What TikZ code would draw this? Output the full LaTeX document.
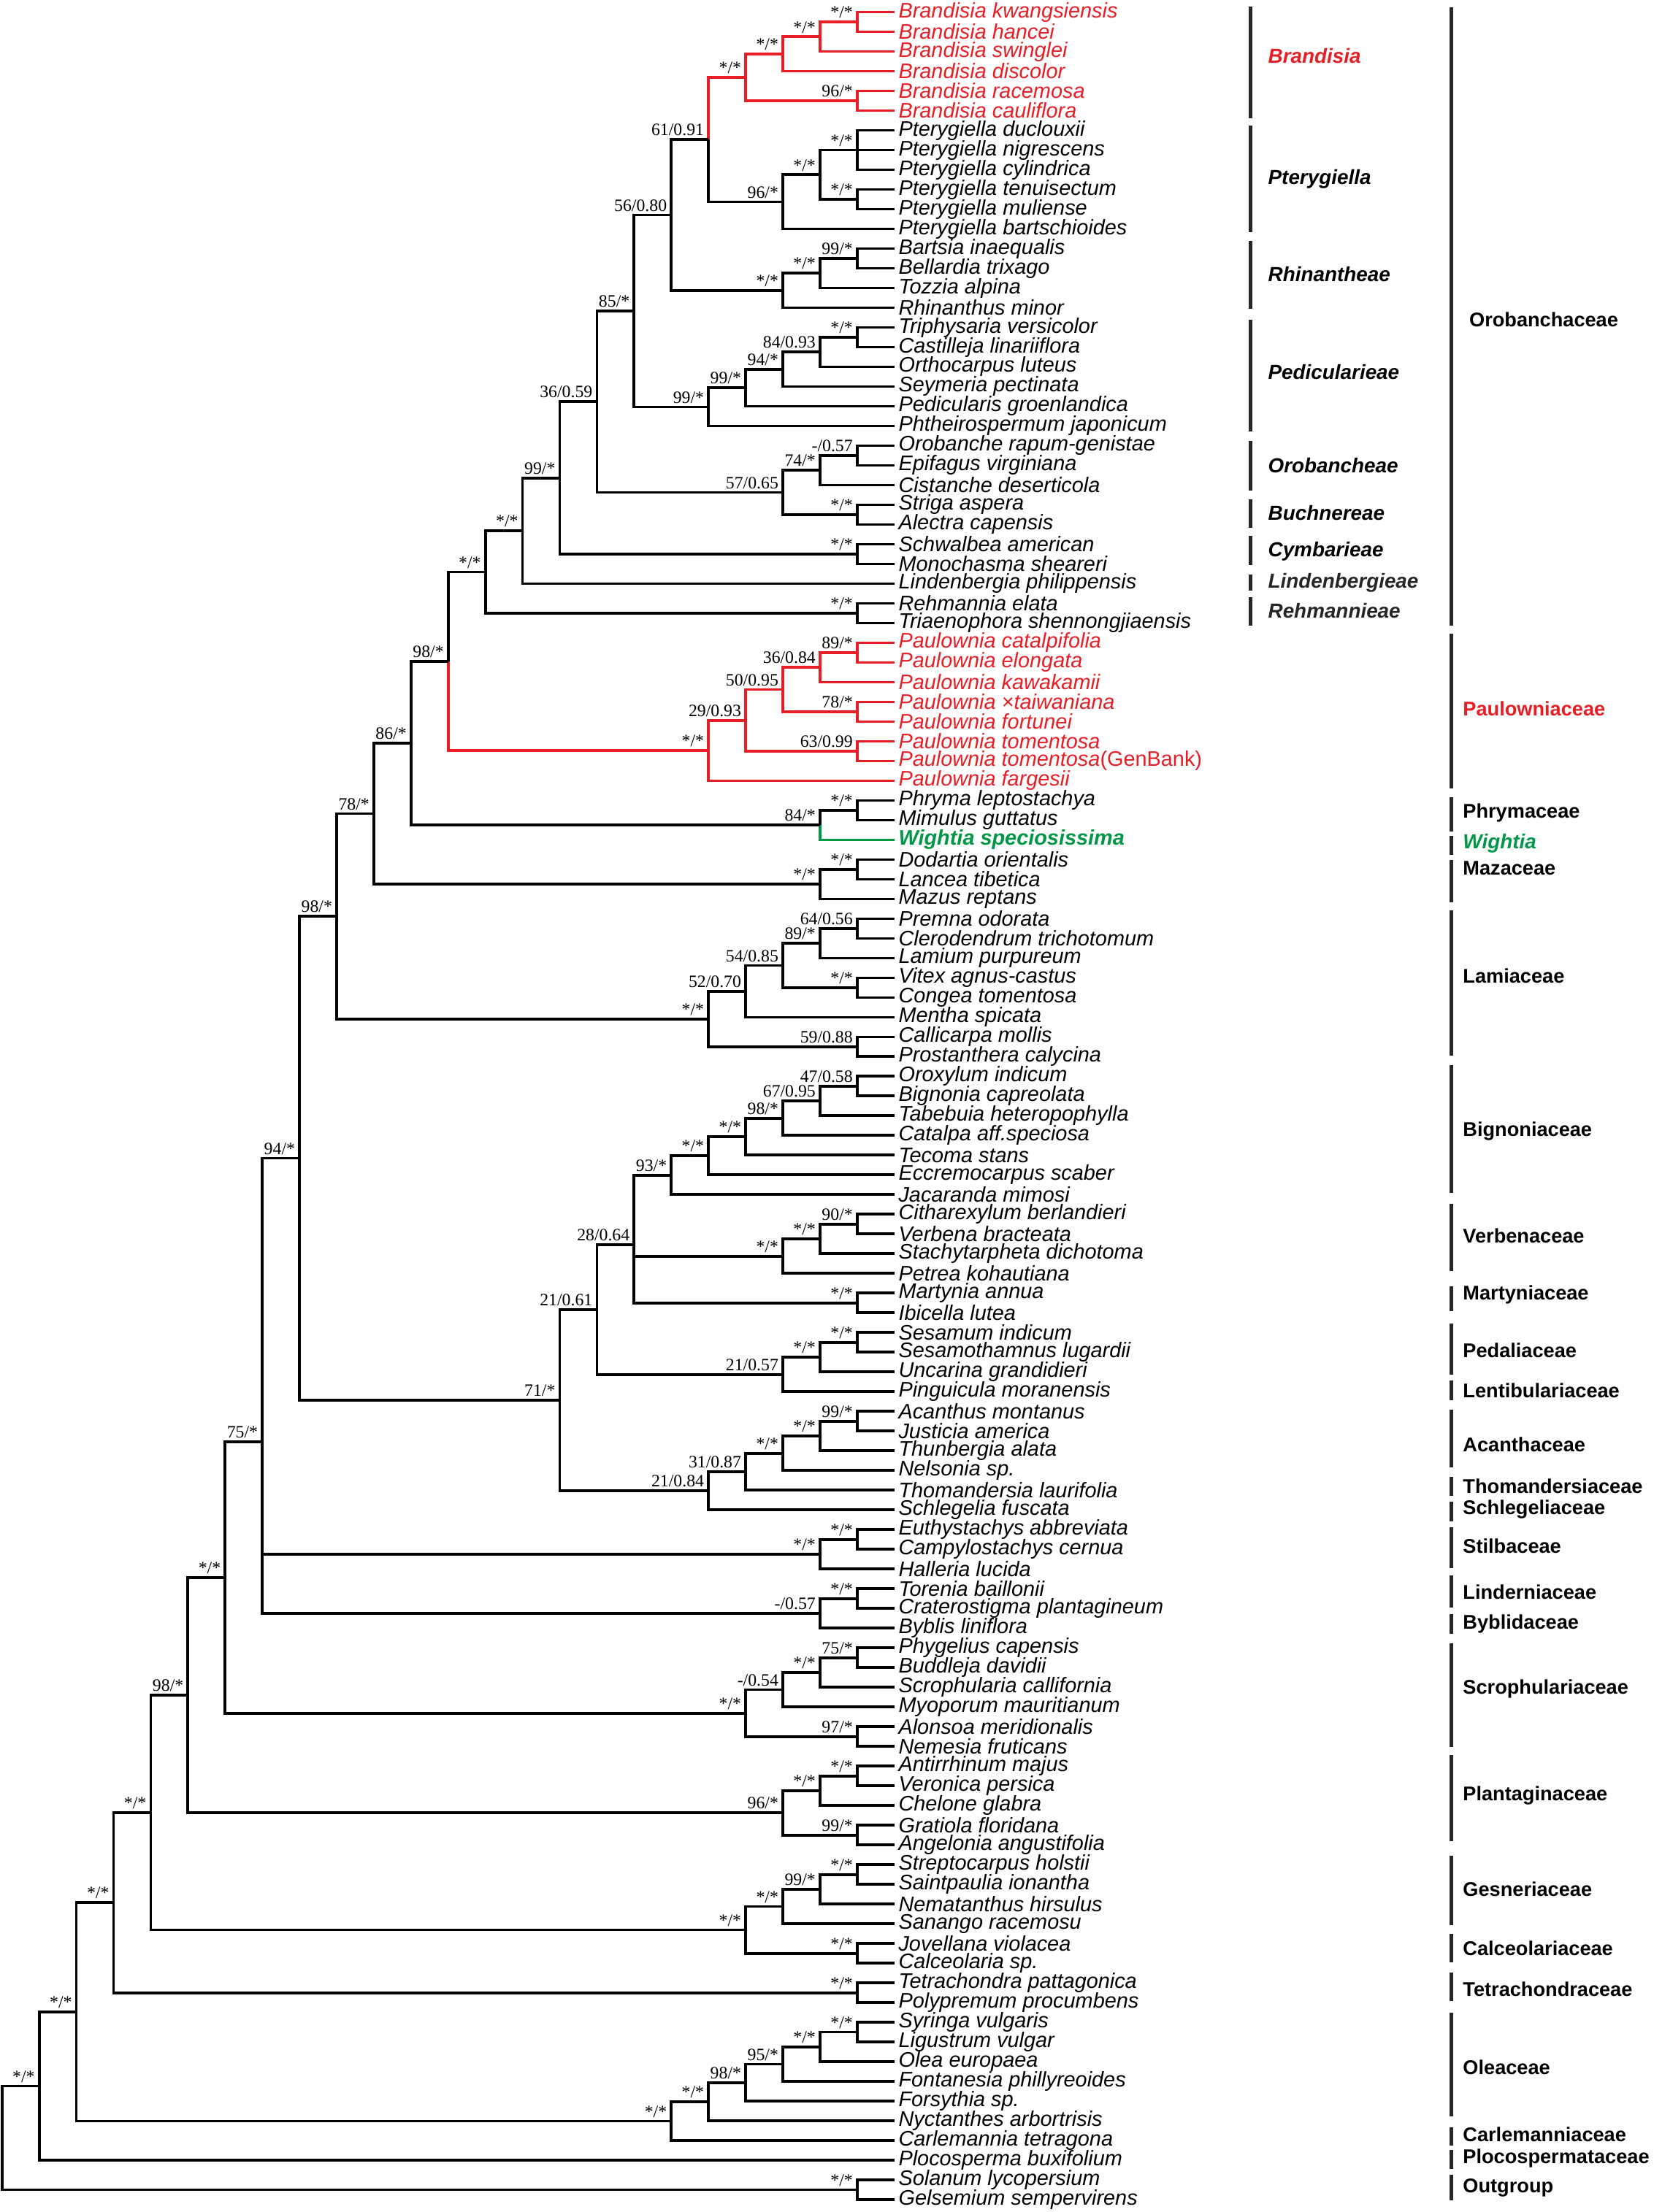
\documentclass[tikz,border=0pt]{standalone}
\usepackage{fontspec}
\setmainfont{Liberation Sans}
\newfontfamily\numfont{Liberation Serif}
\definecolor{bred}{RGB}{232,30,37}
\definecolor{wgreen}{RGB}{0,152,70}
\newcommand\tipfont{\fontsize{8.5}{9}\selectfont\itshape}
\newcommand\supfont{\numfont\fontsize{7}{7}\selectfont}
\newcommand\famfont{\fontsize{8}{9}\selectfont\bfseries}
\newcommand\tribefont{\fontsize{8.2}{9}\selectfont\bfseries\itshape}

\begin{document}
\begin{tikzpicture}[x=-0.527cm,y=-0.2794cm]
            % x = tree level (0 = tips), y = tip number
            \tikzstyle{branch}=[line width=1.1pt]
            \tikzstyle{tip}=[anchor=west,inner xsep=1.5pt,inner ysep=0pt,font=\tipfont]
            \tikzstyle{sup}=[anchor=south east,inner sep=0pt,xshift=-1.6pt,yshift=1.3pt,font=\supfont]
            \tikzstyle{cladebar}=[line width=1.4pt,black!85]
            \tikzstyle{tribe}=[anchor=west,inner sep=0pt,font=\tribefont]
            \tikzstyle{family}=[anchor=west,inner sep=0pt,font=\famfont]
            \useasboundingbox (24.055,0.3844) rectangle (-20.42,112.628);

            % tips
            \node[tip,text=bred] (t1) at (0,1) {Brandisia kwangsiensis};
            \node[tip,text=bred] (t2) at (0,2) {Brandisia hancei};
            \node[tip,text=bred] (t3) at (0,3) {Brandisia swinglei};
            \node[tip,text=bred] (t4) at (0,4) {Brandisia discolor};
            \node[tip,text=bred] (t5) at (0,5) {Brandisia racemosa};
            \node[tip,text=bred] (t6) at (0,6) {Brandisia cauliflora};
            \node[tip] (t7) at (0,7) {Pterygiella duclouxii};
            \node[tip] (t8) at (0,8) {Pterygiella nigrescens};
            \node[tip] (t9) at (0,9) {Pterygiella cylindrica};
            \node[tip] (t10) at (0,10) {Pterygiella tenuisectum};
            \node[tip] (t11) at (0,11) {Pterygiella muliense};
            \node[tip] (t12) at (0,12) {Pterygiella bartschioides};
            \node[tip] (t13) at (0,13) {Bartsia inaequalis};
            \node[tip] (t14) at (0,14) {Bellardia trixago};
            \node[tip] (t15) at (0,15) {Tozzia alpina};
            \node[tip] (t16) at (0,16) {Rhinanthus minor};
            \node[tip] (t17) at (0,17) {Triphysaria versicolor};
            \node[tip] (t18) at (0,18) {Castilleja linariiflora};
            \node[tip] (t19) at (0,19) {Orthocarpus luteus};
            \node[tip] (t20) at (0,20) {Seymeria pectinata};
            \node[tip] (t21) at (0,21) {Pedicularis groenlandica};
            \node[tip] (t22) at (0,22) {Phtheirospermum japonicum};
            \node[tip] (t23) at (0,23) {Orobanche rapum-genistae};
            \node[tip] (t24) at (0,24) {Epifagus virginiana};
            \node[tip] (t25) at (0,25) {Cistanche deserticola};
            \node[tip] (t26) at (0,26) {Striga aspera};
            \node[tip] (t27) at (0,27) {Alectra capensis};
            \node[tip] (t28) at (0,28) {Schwalbea american};
            \node[tip] (t29) at (0,29) {Monochasma sheareri};
            \node[tip] (t30) at (0,30) {Lindenbergia philippensis};
            \node[tip] (t31) at (0,31) {Rehmannia elata};
            \node[tip] (t32) at (0,32) {Triaenophora shennongjiaensis};
            \node[tip,text=bred] (t33) at (0,33) {Paulownia catalpifolia};
            \node[tip,text=bred] (t34) at (0,34) {Paulownia elongata};
            \node[tip,text=bred] (t35) at (0,35) {Paulownia kawakamii};
            \node[tip,text=bred] (t36) at (0,36) {Paulownia ×taiwaniana};
            \node[tip,text=bred] (t37) at (0,37) {Paulownia fortunei};
            \node[tip,text=bred] (t38) at (0,38) {Paulownia tomentosa};
            \node[tip,text=bred] (t39) at (0,39) {Paulownia tomentosa\upshape(GenBank)};
            \node[tip,text=bred] (t40) at (0,40) {Paulownia fargesii};
            \node[tip] (t41) at (0,41) {Phryma leptostachya};
            \node[tip] (t42) at (0,42) {Mimulus guttatus};
            \node[tip,text=wgreen,font=\tipfont\bfseries] (t43) at (0,43) {Wightia speciosissima};
            \node[tip] (t44) at (0,44) {Dodartia orientalis};
            \node[tip] (t45) at (0,45) {Lancea tibetica};
            \node[tip] (t46) at (0,46) {Mazus reptans};
            \node[tip] (t47) at (0,47) {Premna odorata};
            \node[tip] (t48) at (0,48) {Clerodendrum trichotomum};
            \node[tip] (t49) at (0,49) {Lamium purpureum};
            \node[tip] (t50) at (0,50) {Vitex agnus-castus};
            \node[tip] (t51) at (0,51) {Congea tomentosa};
            \node[tip] (t52) at (0,52) {Mentha spicata};
            \node[tip] (t53) at (0,53) {Callicarpa mollis};
            \node[tip] (t54) at (0,54) {Prostanthera calycina};
            \node[tip] (t55) at (0,55) {Oroxylum indicum};
            \node[tip] (t56) at (0,56) {Bignonia capreolata};
            \node[tip] (t57) at (0,57) {Tabebuia heteropophylla};
            \node[tip] (t58) at (0,58) {Catalpa aff.speciosa};
            \node[tip] (t59) at (0,59) {Tecoma stans};
            \node[tip] (t60) at (0,60) {Eccremocarpus scaber};
            \node[tip] (t61) at (0,61) {Jacaranda mimosi};
            \node[tip] (t62) at (0,62) {Citharexylum berlandieri};
            \node[tip] (t63) at (0,63) {Verbena bracteata};
            \node[tip] (t64) at (0,64) {Stachytarpheta dichotoma};
            \node[tip] (t65) at (0,65) {Petrea kohautiana};
            \node[tip] (t66) at (0,66) {Martynia annua};
            \node[tip] (t67) at (0,67) {Ibicella lutea};
            \node[tip] (t68) at (0,68) {Sesamum indicum};
            \node[tip] (t69) at (0,69) {Sesamothamnus lugardii};
            \node[tip] (t70) at (0,70) {Uncarina grandidieri};
            \node[tip] (t71) at (0,71) {Pinguicula moranensis};
            \node[tip] (t72) at (0,72) {Acanthus montanus};
            \node[tip] (t73) at (0,73) {Justicia america};
            \node[tip] (t74) at (0,74) {Thunbergia alata};
            \node[tip] (t75) at (0,75) {Nelsonia sp.};
            \node[tip] (t76) at (0,76) {Thomandersia laurifolia};
            \node[tip] (t77) at (0,77) {Schlegelia fuscata};
            \node[tip] (t78) at (0,78) {Euthystachys abbreviata};
            \node[tip] (t79) at (0,79) {Campylostachys cernua};
            \node[tip] (t80) at (0,80) {Halleria lucida};
            \node[tip] (t81) at (0,81) {Torenia baillonii};
            \node[tip] (t82) at (0,82) {Craterostigma plantagineum};
            \node[tip] (t83) at (0,83) {Byblis liniflora};
            \node[tip] (t84) at (0,84) {Phygelius capensis};
            \node[tip] (t85) at (0,85) {Buddleja davidii};
            \node[tip] (t86) at (0,86) {Scrophularia callifornia};
            \node[tip] (t87) at (0,87) {Myoporum mauritianum};
            \node[tip] (t88) at (0,88) {Alonsoa meridionalis};
            \node[tip] (t89) at (0,89) {Nemesia fruticans};
            \node[tip] (t90) at (0,90) {Antirrhinum majus};
            \node[tip] (t91) at (0,91) {Veronica persica};
            \node[tip] (t92) at (0,92) {Chelone glabra};
            \node[tip] (t93) at (0,93) {Gratiola floridana};
            \node[tip] (t94) at (0,94) {Angelonia angustifolia};
            \node[tip] (t95) at (0,95) {Streptocarpus holstii};
            \node[tip] (t96) at (0,96) {Saintpaulia ionantha};
            \node[tip] (t97) at (0,97) {Nematanthus hirsulus};
            \node[tip] (t98) at (0,98) {Sanango racemosu};
            \node[tip] (t99) at (0,99) {Jovellana violacea};
            \node[tip] (t100) at (0,100) {Calceolaria sp.};
            \node[tip] (t101) at (0,101) {Tetrachondra pattagonica};
            \node[tip] (t102) at (0,102) {Polypremum procumbens};
            \node[tip] (t103) at (0,103) {Syringa vulgaris};
            \node[tip] (t104) at (0,104) {Ligustrum vulgar};
            \node[tip] (t105) at (0,105) {Olea europaea};
            \node[tip] (t106) at (0,106) {Fontanesia phillyreoides};
            \node[tip] (t107) at (0,107) {Forsythia sp.};
            \node[tip] (t108) at (0,108) {Nyctanthes arbortrisis};
            \node[tip] (t109) at (0,109) {Carlemannia tetragona};
            \node[tip] (t110) at (0,110) {Plocosperma buxifolium};
            \node[tip] (t111) at (0,111) {Solanum lycopersium};
            \node[tip] (t112) at (0,112) {Gelsemium sempervirens};

            % Orobanchaceae
            \coordinate (b1) at (1,1.5);
            \coordinate (b2) at (2,2.25);
            \coordinate (b3) at (3,3.125);
            \coordinate (b4) at (1,5.5);
            \coordinate (b5) at (4,4.3125);
            \coordinate (p1) at (1,8);
            \coordinate (p2) at (1,10.5);
            \coordinate (p3) at (2,9.25);
            \coordinate (p4) at (3,10.625);
            \coordinate (o1) at (5,7.46875);
            \coordinate (r1) at (1,13.5);
            \coordinate (r2) at (2,14.25);
            \coordinate (r3) at (3,15.125);
            \coordinate (o2) at (6,11.296875);
            \coordinate (d1) at (1,17.5);
            \coordinate (d2) at (2,18.25);
            \coordinate (d3) at (3,19.125);
            \coordinate (d4) at (4,20.0625);
            \coordinate (d5) at (5,21.03125);
            \coordinate (o3) at (7,16.16406);
            \coordinate (ob1) at (1,23.5);
            \coordinate (ob2) at (2,24.25);
            \coordinate (bu1) at (1,26.5);
            \coordinate (ob3) at (3,25.375);
            \coordinate (o4) at (8,20.76953);
            \coordinate (cy1) at (1,28.5);
            \coordinate (o5) at (9,24.63477);
            \coordinate (o6) at (10,27.31738);
            \coordinate (re1) at (1,31.5);
            \coordinate (o7) at (11,29.40869);
            % Paulownia and the Lamiales core
            \coordinate (pa1) at (1,33.5);
            \coordinate (pa2) at (2,34.25);
            \coordinate (pa3) at (1,36.5);
            \coordinate (pa4) at (3,35.375);
            \coordinate (pa5) at (1,38.5);
            \coordinate (pa6) at (4,36.9375);
            \coordinate (pa7) at (5,38.46875);
            \coordinate (o8) at (12,33.93872);
            \coordinate (ph1) at (1,41.5);
            \coordinate (ph2) at (2,42.25);
            \coordinate (o9) at (13,38.09436);
            \coordinate (mz1) at (1,44.5);
            \coordinate (mz2) at (2,45.25);
            \coordinate (o10) at (14,41.67218);
            \coordinate (la1) at (1,47.5);
            \coordinate (la2) at (2,48.25);
            \coordinate (la3) at (1,50.5);
            \coordinate (la4) at (3,49.375);
            \coordinate (la5) at (4,50.6875);
            \coordinate (la6) at (1,53.5);
            \coordinate (la7) at (5,52.09375);
            \coordinate (o11) at (15,46.88297);
            \coordinate (bg1) at (1,55.5);
            \coordinate (bg2) at (2,56.25);
            \coordinate (bg3) at (3,57.125);
            \coordinate (bg4) at (4,58.0625);
            \coordinate (bg5) at (5,59.03125);
            \coordinate (bg6) at (6,60.015625);
            \coordinate (vb1) at (1,62.5);
            \coordinate (vb2) at (2,63.25);
            \coordinate (vb3) at (3,64.125);
            \coordinate (my1) at (1,66.5);
            \coordinate (l7) at (7,63.546875);
            \coordinate (pd1) at (1,68.5);
            \coordinate (pd2) at (2,69.25);
            \coordinate (pd3) at (3,70.125);
            \coordinate (l8) at (8,66.83594);
            \coordinate (ac1) at (1,72.5);
            \coordinate (ac2) at (2,73.25);
            \coordinate (ac3) at (3,74.125);
            \coordinate (ac4) at (4,75.0625);
            \coordinate (ac5) at (5,76.03125);
            \coordinate (l9) at (9,71.43359);
            \coordinate (o12) at (16,59.15828);
            \coordinate (st1) at (1,78.5);
            \coordinate (st2) at (2,79.25);
            \coordinate (ld1) at (1,81.5);
            \coordinate (ld2) at (2,82.25);
            \coordinate (o13) at (17,73.55276);
            % lower grade
            \coordinate (sc1) at (1,84.5);
            \coordinate (sc2) at (2,85.25);
            \coordinate (sc3) at (3,86.125);
            \coordinate (sc4) at (1,88.5);
            \coordinate (sc5) at (4,87.3125);
            \coordinate (o14) at (18,80.43263);
            \coordinate (pl1) at (1,90.5);
            \coordinate (pl2) at (2,91.25);
            \coordinate (pl3) at (1,93.5);
            \coordinate (pl4) at (3,92.375);
            \coordinate (o15) at (19,86.40382);
            \coordinate (gs1) at (1,95.5);
            \coordinate (gs2) at (2,96.25);
            \coordinate (gs3) at (3,97.125);
            \coordinate (ca1) at (1,99.5);
            \coordinate (gs4) at (4,98.3125);
            \coordinate (o16) at (20,92.35816);
            \coordinate (te1) at (1,101.5);
            \coordinate (o17) at (21,96.92908);
            \coordinate (ol1) at (1,103.5);
            \coordinate (ol2) at (2,104.25);
            \coordinate (ol3) at (3,105.125);
            \coordinate (ol4) at (4,106.0625);
            \coordinate (ol5) at (5,107.03125);
            \coordinate (ol6) at (6,108.015625);
            \coordinate (o18) at (22,102.47235);
            \coordinate (o19) at (23,106.23618);
            \coordinate (og1) at (1,111.5);
            \coordinate (root) at (24,108.86809);

            % branches
            \draw[branch,bred] (b1) |- (t1.west) (b1) |- (t2.west);
            \draw[branch,bred] (b2) |- (b1) (b2) |- (t3.west);
            \draw[branch,bred] (b3) |- (b2) (b3) |- (t4.west);
            \draw[branch,bred] (b4) |- (t5.west) (b4) |- (t6.west);
            \draw[branch,bred] (b5) |- (b3) (b5) |- (b4);
            \draw[branch,bred] (o1) |- (b5);
            \draw[branch] (p1) |- (t7.west) (p1) |- (t8.west) (p1) |- (t9.west);
            \draw[branch] (p2) |- (t10.west) (p2) |- (t11.west);
            \draw[branch] (p3) |- (p1) (p3) |- (p2);
            \draw[branch] (p4) |- (p3) (p4) |- (t12.west);
            \draw[branch] (o1) |- (p4);
            \draw[branch] (r1) |- (t13.west) (r1) |- (t14.west);
            \draw[branch] (r2) |- (r1) (r2) |- (t15.west);
            \draw[branch] (r3) |- (r2) (r3) |- (t16.west);
            \draw[branch] (o2) |- (o1) (o2) |- (r3);
            \draw[branch] (d1) |- (t17.west) (d1) |- (t18.west);
            \draw[branch] (d2) |- (d1) (d2) |- (t19.west);
            \draw[branch] (d3) |- (d2) (d3) |- (t20.west);
            \draw[branch] (d4) |- (d3) (d4) |- (t21.west);
            \draw[branch] (d5) |- (d4) (d5) |- (t22.west);
            \draw[branch] (o3) |- (o2) (o3) |- (d5);
            \draw[branch] (ob1) |- (t23.west) (ob1) |- (t24.west);
            \draw[branch] (ob2) |- (ob1) (ob2) |- (t25.west);
            \draw[branch] (bu1) |- (t26.west) (bu1) |- (t27.west);
            \draw[branch] (ob3) |- (ob2) (ob3) |- (bu1);
            \draw[branch] (o4) |- (o3) (o4) |- (ob3);
            \draw[branch] (cy1) |- (t28.west) (cy1) |- (t29.west);
            \draw[branch] (o5) |- (o4) (o5) |- (cy1);
            \draw[branch] (o6) |- (o5) (o6) |- (t30.west);
            \draw[branch] (re1) |- (t31.west) (re1) |- (t32.west);
            \draw[branch] (o7) |- (o6) (o7) |- (re1);
            \draw[branch,bred] (pa1) |- (t33.west) (pa1) |- (t34.west);
            \draw[branch,bred] (pa2) |- (pa1) (pa2) |- (t35.west);
            \draw[branch,bred] (pa3) |- (t36.west) (pa3) |- (t37.west);
            \draw[branch,bred] (pa4) |- (pa2) (pa4) |- (pa3);
            \draw[branch,bred] (pa5) |- (t38.west) (pa5) |- (t39.west);
            \draw[branch,bred] (pa6) |- (pa4) (pa6) |- (pa5);
            \draw[branch,bred] (pa7) |- (pa6) (pa7) |- (t40.west);
            \draw[branch,bred] (o8) |- (pa7);
            \draw[branch] (o8) |- (o7);
            \draw[branch] (ph1) |- (t41.west) (ph1) |- (t42.west);
            \draw[branch] (ph2) |- (ph1);
            \draw[branch,wgreen] (ph2) |- (t43.west);
            \draw[branch] (o9) |- (o8) (o9) |- (ph2);
            \draw[branch] (mz1) |- (t44.west) (mz1) |- (t45.west);
            \draw[branch] (mz2) |- (mz1) (mz2) |- (t46.west);
            \draw[branch] (o10) |- (o9) (o10) |- (mz2);
            \draw[branch] (la1) |- (t47.west) (la1) |- (t48.west);
            \draw[branch] (la2) |- (la1) (la2) |- (t49.west);
            \draw[branch] (la3) |- (t50.west) (la3) |- (t51.west);
            \draw[branch] (la4) |- (la2) (la4) |- (la3);
            \draw[branch] (la5) |- (la4) (la5) |- (t52.west);
            \draw[branch] (la6) |- (t53.west) (la6) |- (t54.west);
            \draw[branch] (la7) |- (la5) (la7) |- (la6);
            \draw[branch] (o11) |- (o10) (o11) |- (la7);
            \draw[branch] (bg1) |- (t55.west) (bg1) |- (t56.west);
            \draw[branch] (bg2) |- (bg1) (bg2) |- (t57.west);
            \draw[branch] (bg3) |- (bg2) (bg3) |- (t58.west);
            \draw[branch] (bg4) |- (bg3) (bg4) |- (t59.west);
            \draw[branch] (bg5) |- (bg4) (bg5) |- (t60.west);
            \draw[branch] (bg6) |- (bg5) (bg6) |- (t61.west);
            \draw[branch] (vb1) |- (t62.west) (vb1) |- (t63.west);
            \draw[branch] (vb2) |- (vb1) (vb2) |- (t64.west);
            \draw[branch] (vb3) |- (vb2) (vb3) |- (t65.west);
            \draw[branch] (my1) |- (t66.west) (my1) |- (t67.west);
            \draw[branch] (l7) |- (bg6) (l7) |- (vb3) (l7) |- (my1);
            \draw[branch] (pd1) |- (t68.west) (pd1) |- (t69.west);
            \draw[branch] (pd2) |- (pd1) (pd2) |- (t70.west);
            \draw[branch] (pd3) |- (pd2) (pd3) |- (t71.west);
            \draw[branch] (l8) |- (l7) (l8) |- (pd3);
            \draw[branch] (ac1) |- (t72.west) (ac1) |- (t73.west);
            \draw[branch] (ac2) |- (ac1) (ac2) |- (t74.west);
            \draw[branch] (ac3) |- (ac2) (ac3) |- (t75.west);
            \draw[branch] (ac4) |- (ac3) (ac4) |- (t76.west);
            \draw[branch] (ac5) |- (ac4) (ac5) |- (t77.west);
            \draw[branch] (l9) |- (l8) (l9) |- (ac5);
            \draw[branch] (o12) |- (o11) (o12) |- (l9);
            \draw[branch] (st1) |- (t78.west) (st1) |- (t79.west);
            \draw[branch] (st2) |- (st1) (st2) |- (t80.west);
            \draw[branch] (ld1) |- (t81.west) (ld1) |- (t82.west);
            \draw[branch] (ld2) |- (ld1) (ld2) |- (t83.west);
            \draw[branch] (o13) |- (o12) (o13) |- (st2) (o13) |- (ld2);
            \draw[branch] (sc1) |- (t84.west) (sc1) |- (t85.west);
            \draw[branch] (sc2) |- (sc1) (sc2) |- (t86.west);
            \draw[branch] (sc3) |- (sc2) (sc3) |- (t87.west);
            \draw[branch] (sc4) |- (t88.west) (sc4) |- (t89.west);
            \draw[branch] (sc5) |- (sc3) (sc5) |- (sc4);
            \draw[branch] (o14) |- (o13) (o14) |- (sc5);
            \draw[branch] (pl1) |- (t90.west) (pl1) |- (t91.west);
            \draw[branch] (pl2) |- (pl1) (pl2) |- (t92.west);
            \draw[branch] (pl3) |- (t93.west) (pl3) |- (t94.west);
            \draw[branch] (pl4) |- (pl2) (pl4) |- (pl3);
            \draw[branch] (o15) |- (o14) (o15) |- (pl4);
            \draw[branch] (gs1) |- (t95.west) (gs1) |- (t96.west);
            \draw[branch] (gs2) |- (gs1) (gs2) |- (t97.west);
            \draw[branch] (gs3) |- (gs2) (gs3) |- (t98.west);
            \draw[branch] (ca1) |- (t99.west) (ca1) |- (t100.west);
            \draw[branch] (gs4) |- (gs3) (gs4) |- (ca1);
            \draw[branch] (o16) |- (o15) (o16) |- (gs4);
            \draw[branch] (te1) |- (t101.west) (te1) |- (t102.west);
            \draw[branch] (o17) |- (o16) (o17) |- (te1);
            \draw[branch] (ol1) |- (t103.west) (ol1) |- (t104.west);
            \draw[branch] (ol2) |- (ol1) (ol2) |- (t105.west);
            \draw[branch] (ol3) |- (ol2) (ol3) |- (t106.west);
            \draw[branch] (ol4) |- (ol3) (ol4) |- (t107.west);
            \draw[branch] (ol5) |- (ol4) (ol5) |- (t108.west);
            \draw[branch] (ol6) |- (ol5) (ol6) |- (t109.west);
            \draw[branch] (o18) |- (o17) (o18) |- (ol6);
            \draw[branch] (o19) |- (o18) (o19) |- (t110.west);
            \draw[branch] (og1) |- (t111.west) (og1) |- (t112.west);
            \draw[branch] (root) |- (o19) (root) |- (og1);

            % support values (bootstrap / posterior)
            \node[sup] (sb1) at (b1) {*/*};
            \node[sup] (sb2) at (b2) {*/*};
            \node[sup] (sb3) at (b3) {*/*};
            \node[sup] (sb4) at (b4) {96/*};
            \node[sup] (sb5) at (b5) {*/*};
            \node[sup] (sp1) at (p1) {*/*};
            \node[sup] (sp2) at (p2) {*/*};
            \node[sup] (sp3) at (p3) {*/*};
            \node[sup] (sp4) at (p4) {96/*};
            \node[sup] (so1) at (o1) {61/0.91};
            \node[sup] (sr1) at (r1) {99/*};
            \node[sup] (sr2) at (r2) {*/*};
            \node[sup] (sr3) at (r3) {*/*};
            \node[sup] (so2) at (o2) {56/0.80};
            \node[sup] (sd1) at (d1) {*/*};
            \node[sup] (sd2) at (d2) {84/0.93};
            \node[sup] (sd3) at (d3) {94/*};
            \node[sup] (sd4) at (d4) {99/*};
            \node[sup] (sd5) at (d5) {99/*};
            \node[sup] (so3) at (o3) {85/*};
            \node[sup] (sob1) at (ob1) {-/0.57};
            \node[sup] (sob2) at (ob2) {74/*};
            \node[sup] (sbu1) at (bu1) {*/*};
            \node[sup] (sob3) at (ob3) {57/0.65};
            \node[sup] (so4) at (o4) {36/0.59};
            \node[sup] (scy1) at (cy1) {*/*};
            \node[sup] (so5) at (o5) {99/*};
            \node[sup] (so6) at (o6) {*/*};
            \node[sup] (sre1) at (re1) {*/*};
            \node[sup] (so7) at (o7) {*/*};
            \node[sup] (spa1) at (pa1) {89/*};
            \node[sup] (spa2) at (pa2) {36/0.84};
            \node[sup] (spa3) at (pa3) {78/*};
            \node[sup] (spa4) at (pa4) {50/0.95};
            \node[sup] (spa5) at (pa5) {63/0.99};
            \node[sup] (spa6) at (pa6) {29/0.93};
            \node[sup] (spa7) at (pa7) {*/*};
            \node[sup] (so8) at (o8) {98/*};
            \node[sup] (sph1) at (ph1) {*/*};
            \node[sup] (sph2) at (ph2) {84/*};
            \node[sup] (so9) at (o9) {86/*};
            \node[sup] (smz1) at (mz1) {*/*};
            \node[sup] (smz2) at (mz2) {*/*};
            \node[sup] (so10) at (o10) {78/*};
            \node[sup] (sla1) at (la1) {64/0.56};
            \node[sup] (sla2) at (la2) {89/*};
            \node[sup] (sla3) at (la3) {*/*};
            \node[sup] (sla4) at (la4) {54/0.85};
            \node[sup] (sla5) at (la5) {52/0.70};
            \node[sup] (sla6) at (la6) {59/0.88};
            \node[sup] (sla7) at (la7) {*/*};
            \node[sup] (so11) at (o11) {98/*};
            \node[sup] (sbg1) at (bg1) {47/0.58};
            \node[sup] (sbg2) at (bg2) {67/0.95};
            \node[sup] (sbg3) at (bg3) {98/*};
            \node[sup] (sbg4) at (bg4) {*/*};
            \node[sup] (sbg5) at (bg5) {*/*};
            \node[sup] (sbg6) at (bg6) {93/*};
            \node[sup] (svb1) at (vb1) {90/*};
            \node[sup] (svb2) at (vb2) {*/*};
            \node[sup] (svb3) at (vb3) {*/*};
            \node[sup] (smy1) at (my1) {*/*};
            \node[sup] (sl7) at (l7) {28/0.64};
            \node[sup] (spd1) at (pd1) {*/*};
            \node[sup] (spd2) at (pd2) {*/*};
            \node[sup] (spd3) at (pd3) {21/0.57};
            \node[sup] (sl8) at (l8) {21/0.61};
            \node[sup] (sac1) at (ac1) {99/*};
            \node[sup] (sac2) at (ac2) {*/*};
            \node[sup] (sac3) at (ac3) {*/*};
            \node[sup] (sac4) at (ac4) {31/0.87};
            \node[sup] (sac5) at (ac5) {21/0.84};
            \node[sup] (sl9) at (l9) {71/*};
            \node[sup] (so12) at (o12) {94/*};
            \node[sup] (sst1) at (st1) {*/*};
            \node[sup] (sst2) at (st2) {*/*};
            \node[sup] (sld1) at (ld1) {*/*};
            \node[sup] (sld2) at (ld2) {-/0.57};
            \node[sup] (so13) at (o13) {75/*};
            \node[sup] (ssc1) at (sc1) {75/*};
            \node[sup] (ssc2) at (sc2) {*/*};
            \node[sup] (ssc3) at (sc3) {-/0.54};
            \node[sup] (ssc4) at (sc4) {97/*};
            \node[sup] (ssc5) at (sc5) {*/*};
            \node[sup] (so14) at (o14) {*/*};
            \node[sup] (spl1) at (pl1) {*/*};
            \node[sup] (spl2) at (pl2) {*/*};
            \node[sup] (spl3) at (pl3) {99/*};
            \node[sup] (spl4) at (pl4) {96/*};
            \node[sup] (so15) at (o15) {98/*};
            \node[sup] (sgs1) at (gs1) {*/*};
            \node[sup] (sgs2) at (gs2) {99/*};
            \node[sup] (sgs3) at (gs3) {*/*};
            \node[sup] (sca1) at (ca1) {*/*};
            \node[sup] (sgs4) at (gs4) {*/*};
            \node[sup] (so16) at (o16) {*/*};
            \node[sup] (ste1) at (te1) {*/*};
            \node[sup] (so17) at (o17) {*/*};
            \node[sup] (sol1) at (ol1) {*/*};
            \node[sup] (sol2) at (ol2) {*/*};
            \node[sup] (sol3) at (ol3) {95/*};
            \node[sup] (sol4) at (ol4) {98/*};
            \node[sup] (sol5) at (ol5) {*/*};
            \node[sup] (sol6) at (ol6) {*/*};
            \node[sup] (so18) at (o18) {*/*};
            \node[sup] (so19) at (o19) {*/*};
            \node[sup] (sog1) at (og1) {*/*};

            % tribes of Orobanchaceae
            \draw[cladebar] (-9.58,0.735) -- (-9.58,6.397);
            \draw[cladebar] (-9.58,6.755) -- (-9.58,12.18);
            \draw[cladebar] (-9.58,12.625) -- (-9.58,16.06);
            \draw[cladebar] (-9.58,16.62) -- (-9.58,22.28);
            \draw[cladebar] (-9.58,22.75) -- (-9.58,25.27);
            \draw[cladebar] (-9.58,25.72) -- (-9.58,27.16);
            \draw[cladebar] (-9.58,27.56) -- (-9.58,29.05);
            \draw[cladebar] (-9.58,29.52) -- (-9.58,30.35);
            \draw[cladebar] (-9.58,30.7) -- (-9.58,32.12);
            \node[tribe,text=bred] (cBrandisia) at (-10.04,3.22) {Brandisia};
            \node[tribe] (cPterygiella) at (-10.04,9.48) {Pterygiella};
            \node[tribe] (cRhinantheae) at (-10.04,14.31) {Rhinantheae};
            \node[tribe] (cPedicularieae) at (-10.04,19.26) {Pedicularieae};
            \node[tribe] (cOrobancheae) at (-10.04,24.0) {Orobancheae};
            \node[tribe] (cBuchnereae) at (-10.04,26.41) {Buchnereae};
            \node[tribe] (cCymbarieae) at (-10.04,28.35) {Cymbarieae};
            \node[tribe,text=black!85] (cLindenbergieae) at (-10.04,29.95) {Lindenbergieae};
            \node[tribe,text=black!85] (cRehmannieae) at (-10.04,31.37) {Rehmannieae};

            % families
            \draw[cladebar] (-14.975,0.74) -- (-14.975,32.12);
            \draw[cladebar] (-14.975,32.53) -- (-14.975,40.38);
            \draw[cladebar] (-14.975,40.85) -- (-14.975,42.58);
            \draw[cladebar] (-14.975,42.81) -- (-14.975,43.76);
            \draw[cladebar] (-14.975,44.04) -- (-14.975,46.16);
            \draw[cladebar] (-14.975,46.59) -- (-14.975,53.96);
            \draw[cladebar] (-14.975,54.43) -- (-14.975,60.93);
            \draw[cladebar] (-14.975,61.47) -- (-14.975,64.87);
            \draw[cladebar] (-14.975,65.65) -- (-14.975,66.91);
            \draw[cladebar] (-14.975,67.54) -- (-14.975,70.14);
            \draw[cladebar] (-14.975,70.45) -- (-14.975,71.45);
            \draw[cladebar] (-14.975,71.91) -- (-14.975,74.83);
            \draw[cladebar] (-14.975,75.32) -- (-14.975,76.29);
            \draw[cladebar] (-14.975,76.6) -- (-14.975,77.58);
            \draw[cladebar] (-14.975,77.87) -- (-14.975,79.94);
            \draw[cladebar] (-14.975,80.31) -- (-14.975,81.96);
            \draw[cladebar] (-14.975,82.3) -- (-14.975,83.27);
            \draw[cladebar] (-14.975,83.76) -- (-14.975,89.02);
            \draw[cladebar] (-14.975,89.43) -- (-14.975,93.8);
            \draw[cladebar] (-14.975,94.54) -- (-14.975,98.07);
            \draw[cladebar] (-14.975,98.51) -- (-14.975,99.97);
            \draw[cladebar] (-14.975,100.46) -- (-14.975,101.91);
            \draw[cladebar] (-14.975,102.5) -- (-14.975,107.76);
            \draw[cladebar] (-14.975,108.33) -- (-14.975,109.26);
            \draw[cladebar] (-14.975,109.46) -- (-14.975,110.43);
            \draw[cladebar] (-14.975,110.72) -- (-14.975,112.05);
            \node[family] (fOrobanchaceae) at (-15.45,16.62) {Orobanchaceae};
            \node[family,text=bred] (fPaulowniaceae) at (-15.28,36.36) {Paulowniaceae};
            \node[family] (fPhrymaceae) at (-15.28,41.62) {Phrymaceae};
            \node[family,font=\tribefont,text=wgreen] (fWightia) at (-15.28,43.19) {Wightia};
            \node[family] (fMazaceae) at (-15.28,44.44) {Mazaceae};
            \node[family] (fLamiaceae) at (-15.28,49.92) {Lamiaceae};
            \node[family] (fBignoniaceae) at (-15.28,57.79) {Bignoniaceae};
            \node[family] (fVerbenaceae) at (-15.28,63.1) {Verbenaceae};
            \node[family] (fMartyniaceae) at (-15.28,66.08) {Martyniaceae};
            \node[family] (fPedaliaceae) at (-15.28,68.89) {Pedaliaceae};
            \node[family] (fLentibulariaceae) at (-15.28,70.94) {Lentibulariaceae};
            \node[family] (fAcanthaceae) at (-15.28,73.69) {Acanthaceae};
            \node[family] (fThomandersiaceae) at (-15.28,75.8) {Thomandersiaceae};
            \node[family] (fSchlegeliaceae) at (-15.28,76.98) {Schlegeliaceae};
            \node[family] (fStilbaceae) at (-15.28,78.84) {Stilbaceae};
            \node[family] (fLinderniaceae) at (-15.28,81.16) {Linderniaceae};
            \node[family] (fByblidaceae) at (-15.28,82.78) {Byblidaceae};
            \node[family] (fScrophulariaceae) at (-15.28,86.07) {Scrophulariaceae};
            \node[family] (fPlantaginaceae) at (-15.28,91.51) {Plantaginaceae};
            \node[family] (fGesneriaceae) at (-15.28,96.23) {Gesneriaceae};
            \node[family] (fCalceolariaceae) at (-15.28,99.24) {Calceolariaceae};
            \node[family] (fTetrachondraceae) at (-15.28,101.32) {Tetrachondraceae};
            \node[family] (fOleaceae) at (-15.28,105.3) {Oleaceae};
            \node[family] (fCarlemanniaceae) at (-15.28,108.69) {Carlemanniaceae};
            \node[family] (fPlocospermataceae) at (-15.28,109.9) {Plocospermataceae};
            \node[family] (fOutgroup) at (-15.28,111.41) {Outgroup};
        \end{tikzpicture}
\end{document}
